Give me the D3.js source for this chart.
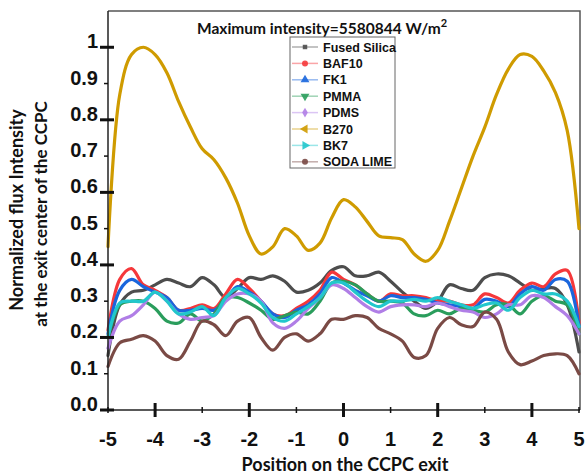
<!DOCTYPE html>
<html>
<head>
<meta charset="utf-8">
<script src="https://cdn.jsdelivr.net/npm/d3@7"></script>
<style>
  html, body { margin: 0; padding: 0; background: #fff; }
  svg { display: block; }
</style>
</head>
<body>
<svg id="chart" width="585" height="475"></svg>
<script>
// ---- data ----
const positions = d3.range(-5, 5.001, 0.25).map(v => +v.toFixed(2));
const seriesNames = ["Fused Silica", "BAF10", "FK1", "PMMA", "PDMS", "B270", "BK7", "SODA LIME"];
const fusedSilica = [0.15,0.29,0.325,0.33,0.345,0.36,0.35,0.34,0.365,0.345,0.31,0.335,0.365,0.36,0.37,0.355,0.325,0.33,0.35,0.385,0.395,0.37,0.37,0.38,0.355,0.325,0.30,0.28,0.30,0.345,0.335,0.33,0.365,0.375,0.37,0.35,0.33,0.335,0.335,0.29,0.16];
const baf10 = [0.22,0.36,0.39,0.345,0.33,0.31,0.275,0.28,0.29,0.28,0.32,0.36,0.335,0.30,0.265,0.26,0.28,0.30,0.33,0.38,0.36,0.345,0.32,0.30,0.32,0.315,0.315,0.31,0.30,0.30,0.29,0.29,0.32,0.31,0.295,0.33,0.35,0.34,0.375,0.385,0.24];
const fk1 = [0.21,0.33,0.36,0.34,0.325,0.31,0.275,0.275,0.28,0.275,0.305,0.34,0.325,0.30,0.265,0.255,0.275,0.29,0.32,0.365,0.35,0.33,0.315,0.30,0.315,0.31,0.31,0.305,0.295,0.29,0.285,0.28,0.305,0.30,0.285,0.32,0.34,0.33,0.36,0.355,0.23];
const pmma = [0.20,0.29,0.30,0.30,0.28,0.245,0.24,0.265,0.245,0.265,0.31,0.31,0.295,0.275,0.25,0.26,0.27,0.265,0.30,0.35,0.355,0.345,0.32,0.30,0.30,0.295,0.265,0.26,0.275,0.265,0.28,0.275,0.27,0.29,0.29,0.265,0.30,0.315,0.30,0.29,0.21];
const pdms = [0.17,0.245,0.26,0.29,0.325,0.30,0.265,0.25,0.255,0.26,0.30,0.32,0.32,0.30,0.24,0.225,0.245,0.28,0.31,0.345,0.335,0.31,0.285,0.27,0.285,0.29,0.29,0.285,0.295,0.285,0.275,0.27,0.255,0.265,0.29,0.29,0.315,0.31,0.285,0.26,0.21];
const b270 = [0.45,0.87,0.98,1.0,0.98,0.93,0.85,0.78,0.72,0.69,0.64,0.57,0.48,0.43,0.45,0.50,0.48,0.44,0.46,0.53,0.58,0.56,0.52,0.48,0.475,0.47,0.43,0.41,0.44,0.52,0.61,0.70,0.78,0.87,0.94,0.98,0.975,0.935,0.875,0.77,0.50];
const bk7 = [0.20,0.295,0.30,0.30,0.325,0.30,0.265,0.27,0.285,0.26,0.31,0.335,0.32,0.295,0.255,0.245,0.265,0.285,0.31,0.35,0.35,0.325,0.30,0.285,0.30,0.30,0.305,0.30,0.31,0.30,0.29,0.28,0.29,0.295,0.275,0.31,0.33,0.32,0.32,0.30,0.23];
const sodaLime = [0.12,0.185,0.195,0.205,0.19,0.15,0.14,0.19,0.245,0.235,0.205,0.245,0.255,0.20,0.165,0.20,0.21,0.19,0.21,0.25,0.25,0.26,0.255,0.225,0.21,0.19,0.145,0.15,0.225,0.255,0.235,0.23,0.27,0.25,0.16,0.125,0.135,0.15,0.155,0.15,0.10];
const seriesValues = [fusedSilica, baf10, fk1, pmma, pdms, b270, bk7, sodaLime];
const xTicks = [-5,-4,-3,-2,-1,0,1,2,3,4,5];
const yTicks = [0,0.1,0.2,0.3,0.4,0.5,0.6,0.7,0.8,0.9,1.0];
const yTickLabels = ["0.0","0.1","0.2","0.3","0.4","0.5","0.6","0.7","0.8","0.9","1"];

// ---- styles ----
const colors = ["#4d4d4d", "#f5383b", "#1a66dd", "#2a9d5c", "#b07ee6", "#cf9b00", "#22c7cc", "#7a4a45"];
const markers = [d3.symbolSquare, d3.symbolCircle, d3.symbolTriangle, "down", d3.symbolDiamond, "left", "right", d3.symbolCircle];

const svg = d3.select("#chart");
const L = 108, R = 579, T = 11, B = 410;
const x = d3.scaleLinear().domain([-5, 5]).range([L, R]);
const y = d3.scaleLinear().domain([0, 1.1]).range([B, T]);

// frame (top & right)
svg.append("path")
  .attr("d", `M${L},${T}H${R+1}V${B}`)
  .attr("fill", "none").attr("stroke", "#555").attr("stroke-width", 1.5);

// lines
const line = d3.line().x((d, i) => x(positions[i])).y(d => y(d)).curve(d3.curveCatmullRom.alpha(0.5));
const g = svg.append("g");
seriesValues.forEach((vals, k) => {
  g.append("path").datum(vals)
    .attr("d", line)
    .attr("fill", "none")
    .attr("stroke", colors[k])
    .attr("stroke-width", 3.2)
    .attr("stroke-linejoin", "round")
    .attr("stroke-linecap", "round");
});

// axes lines
svg.append("line").attr("x1", L).attr("x2", L).attr("y1", T).attr("y2", B)
  .attr("stroke", "#222").attr("stroke-width", 1.5);
svg.append("line").attr("x1", L).attr("x2", R+1).attr("y1", B).attr("y2", B)
  .attr("stroke", "#222").attr("stroke-width", 1.5);

// y ticks
const tickFont = "'Liberation Sans', Arial, sans-serif";
yTicks.forEach((v, i) => {
  const major = i % 2 === 0;
  const yy = y(v);
  svg.append("line")
    .attr("x1", major ? L - 8 : L - 4).attr("x2", major ? L + 6 : L)
    .attr("y1", yy).attr("y2", yy)
    .attr("stroke", "#111").attr("stroke-width", major ? 3 : 1.5);
  svg.append("text")
    .attr("x", 98).attr("y", yy + 1)
    .attr("text-anchor", "end")
    .attr("font-family", tickFont).attr("font-weight", "bold").attr("font-size", 20)
    .attr("fill", "#111")
    .text(yTickLabels[i]);
});

// x ticks
xTicks.forEach(v => {
  const major = v % 2 === 0;
  const xx = x(v);
  svg.append("line")
    .attr("x1", xx).attr("x2", xx)
    .attr("y1", major ? B - 7 : B - 3).attr("y2", major ? B + 7 : B + 3)
    .attr("stroke", "#111").attr("stroke-width", major ? 3 : 1.5);
  svg.append("text")
    .attr("x", xx).attr("y", 446)
    .attr("text-anchor", "middle")
    .attr("font-family", tickFont).attr("font-weight", "bold").attr("font-size", 20)
    .attr("fill", "#111")
    .text(v);
});

// axis titles
const titleFont = "Lato, 'Open Sans', sans-serif";
svg.append("text")
  .attr("x", 345).attr("y", 471)
  .attr("text-anchor", "middle")
  .attr("font-family", titleFont).attr("font-weight", 700).attr("font-size", 18)
  .attr("fill", "#111")
  .text("Position on the CCPC exit");
svg.append("text")
  .attr("transform", "translate(23,210) rotate(-90)")
  .attr("text-anchor", "middle")
  .attr("font-family", titleFont).attr("font-weight", 700).attr("font-size", 18)
  .attr("fill", "#111")
  .text("Normalized flux Intensity");
svg.append("text")
  .attr("transform", "translate(47,214) rotate(-90)")
  .attr("text-anchor", "middle")
  .attr("font-family", titleFont).attr("font-weight", 700).attr("font-size", 17)
  .attr("fill", "#111")
  .text("at the exit center of the CCPC");

// chart title
const title = svg.append("text")
  .attr("x", 197).attr("y", 34)
  .attr("font-family", titleFont).attr("font-weight", 700).attr("font-size", 15.5)
  .attr("fill", "#111");
title.append("tspan").text("Maximum intensity=5580844 W/m");
title.append("tspan").attr("font-size", 11).attr("dy", -7).text("2");

// legend
const lg = svg.append("g");
lg.append("rect").attr("x", 290).attr("y", 37).attr("width", 105).attr("height", 131)
  .attr("fill", "#fff").attr("stroke", "#666").attr("stroke-width", 1);
seriesNames.forEach((name, k) => {
  const yy = 47 + k * 16.4;
  lg.append("line").attr("x1", 292).attr("x2", 318).attr("y1", yy).attr("y2", yy)
    .attr("stroke", colors[k]).attr("stroke-opacity", 0.45).attr("stroke-width", 1.5);
  const m = markers[k];
  let sym, rot = 0;
  if (m === "down") { sym = d3.symbolTriangle; rot = 180; }
  else if (m === "left") { sym = d3.symbolTriangle; rot = -90; }
  else if (m === "right") { sym = d3.symbolTriangle; rot = 90; }
  else sym = m;
  const size = (sym === d3.symbolTriangle) ? 34 : (sym === d3.symbolSquare ? 20 : 28);
  lg.append("path")
    .attr("d", d3.symbol().type(sym).size(size)())
    .attr("transform", `translate(305,${yy}) rotate(${rot})`)
    .attr("fill", colors[k]).attr("fill-opacity", 0.9);
  lg.append("text")
    .attr("x", 323).attr("y", yy + 4.5)
    .attr("font-family", tickFont).attr("font-weight", "bold").attr("font-size", 12.5)
    .attr("fill", "#111")
    .text(name);
});
</script>
</body>
</html>
